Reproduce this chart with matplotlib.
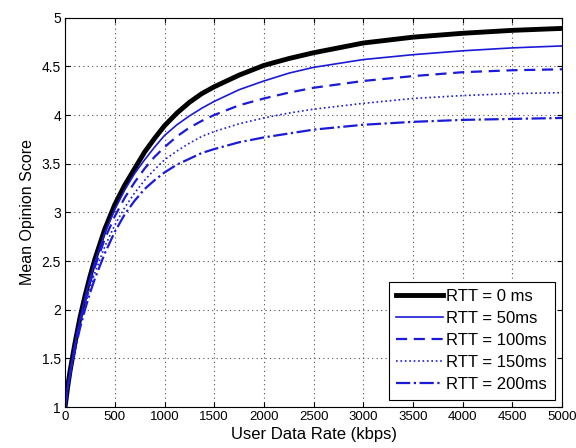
import matplotlib
matplotlib.use("Agg")
import matplotlib.pyplot as plt
import numpy as np

plt.rcParams['font.family'] = ['Liberation Sans', 'DejaVu Sans']

# user data rate (kbps) and MOS values
rate = [0, 25, 50, 100, 150, 200, 250, 300, 400, 500, 600, 700, 800, 900, 1000,
        1125, 1250, 1375, 1500, 1750, 2000, 2250, 2500, 3000, 3500, 4000, 4500, 5000]

mos_0ms = [1.0, 1.2, 1.37, 1.66, 1.92, 2.14, 2.34, 2.52, 2.83, 3.08, 3.28, 3.45, 3.62, 3.76, 3.89,
           4.02, 4.13, 4.22, 4.29, 4.41, 4.51, 4.58, 4.64, 4.74, 4.80, 4.84, 4.87, 4.89]
mos_50ms = [1.0, 1.2, 1.36, 1.65, 1.9, 2.12, 2.32, 2.49, 2.79, 3.03, 3.23, 3.40, 3.54, 3.67, 3.79,
            3.90, 3.99, 4.07, 4.14, 4.26, 4.35, 4.43, 4.49, 4.57, 4.62, 4.66, 4.69, 4.71]
mos_100ms = [1.0, 1.19, 1.35, 1.63, 1.87, 2.08, 2.27, 2.44, 2.73, 2.96, 3.15, 3.31, 3.45, 3.57, 3.67,
             3.78, 3.87, 3.94, 4.00, 4.10, 4.17, 4.23, 4.28, 4.35, 4.40, 4.44, 4.46, 4.47]
mos_150ms = [1.0, 1.19, 1.34, 1.61, 1.84, 2.04, 2.22, 2.38, 2.65, 2.87, 3.05, 3.20, 3.33, 3.44, 3.54,
             3.63, 3.71, 3.78, 3.83, 3.91, 3.97, 4.02, 4.06, 4.12, 4.17, 4.20, 4.22, 4.23]
mos_200ms = [1.0, 1.18, 1.33, 1.59, 1.81, 2.0, 2.17, 2.32, 2.58, 2.80, 2.98, 3.12, 3.24, 3.33, 3.41,
             3.49, 3.55, 3.61, 3.65, 3.72, 3.77, 3.81, 3.85, 3.90, 3.93, 3.95, 3.96, 3.97]

labels = ['RTT = 0 ms', 'RTT = 50ms', 'RTT = 100ms', 'RTT = 150ms', 'RTT = 200ms']

blue = '#1a1ad8'

fig = plt.figure(figsize=(5.76, 4.48), dpi=100)
ax = fig.add_axes([0.113, 0.0915, 0.863, 0.869])

ax.plot(rate, mos_0ms, color='black', lw=3.5, label=labels[0])
ax.plot(rate, mos_50ms, color=blue, lw=1.2, ls='-', label=labels[1])
ax.plot(rate, mos_100ms, color=blue, lw=1.6, ls='--', dashes=(5, 3), label=labels[2])
ax.plot(rate, mos_150ms, color=blue, lw=1.2, ls=':', label=labels[3])
ax.plot(rate, mos_200ms, color=blue, lw=1.6, ls='-.', label=labels[4])

ax.set_xlim(0, 5000)
ax.set_ylim(1, 5)
ax.set_xticks(np.arange(0, 5001, 500))
ax.set_yticks(np.arange(1, 5.01, 0.5))
ax.set_yticklabels(['1', '1.5', '2', '2.5', '3', '3.5', '4', '4.5', '5'])
ax.tick_params(direction='in', top=True, right=True, labelsize=10, length=3.5, pad=3)
ax.tick_params(axis='x', labelsize=9.5)
ax.grid(True, color='0.3', ls=(0, (1, 3)), lw=0.8)
for s in ax.spines.values():
    s.set_linewidth(0.8)

ax.set_xlabel('User Data Rate (kbps)', fontsize=12, labelpad=3)
ax.set_ylabel('Mean Opinion Score', fontsize=11.5, labelpad=5)

leg = ax.legend(loc='lower right', fontsize=12, handlelength=2.8, handletextpad=0.2,
                labelspacing=0.42, borderpad=0.45, fancybox=False, framealpha=1,
                edgecolor='black', borderaxespad=0.45)
leg.get_frame().set_linewidth(0.8)

fig.savefig('out.png', dpi=100)
